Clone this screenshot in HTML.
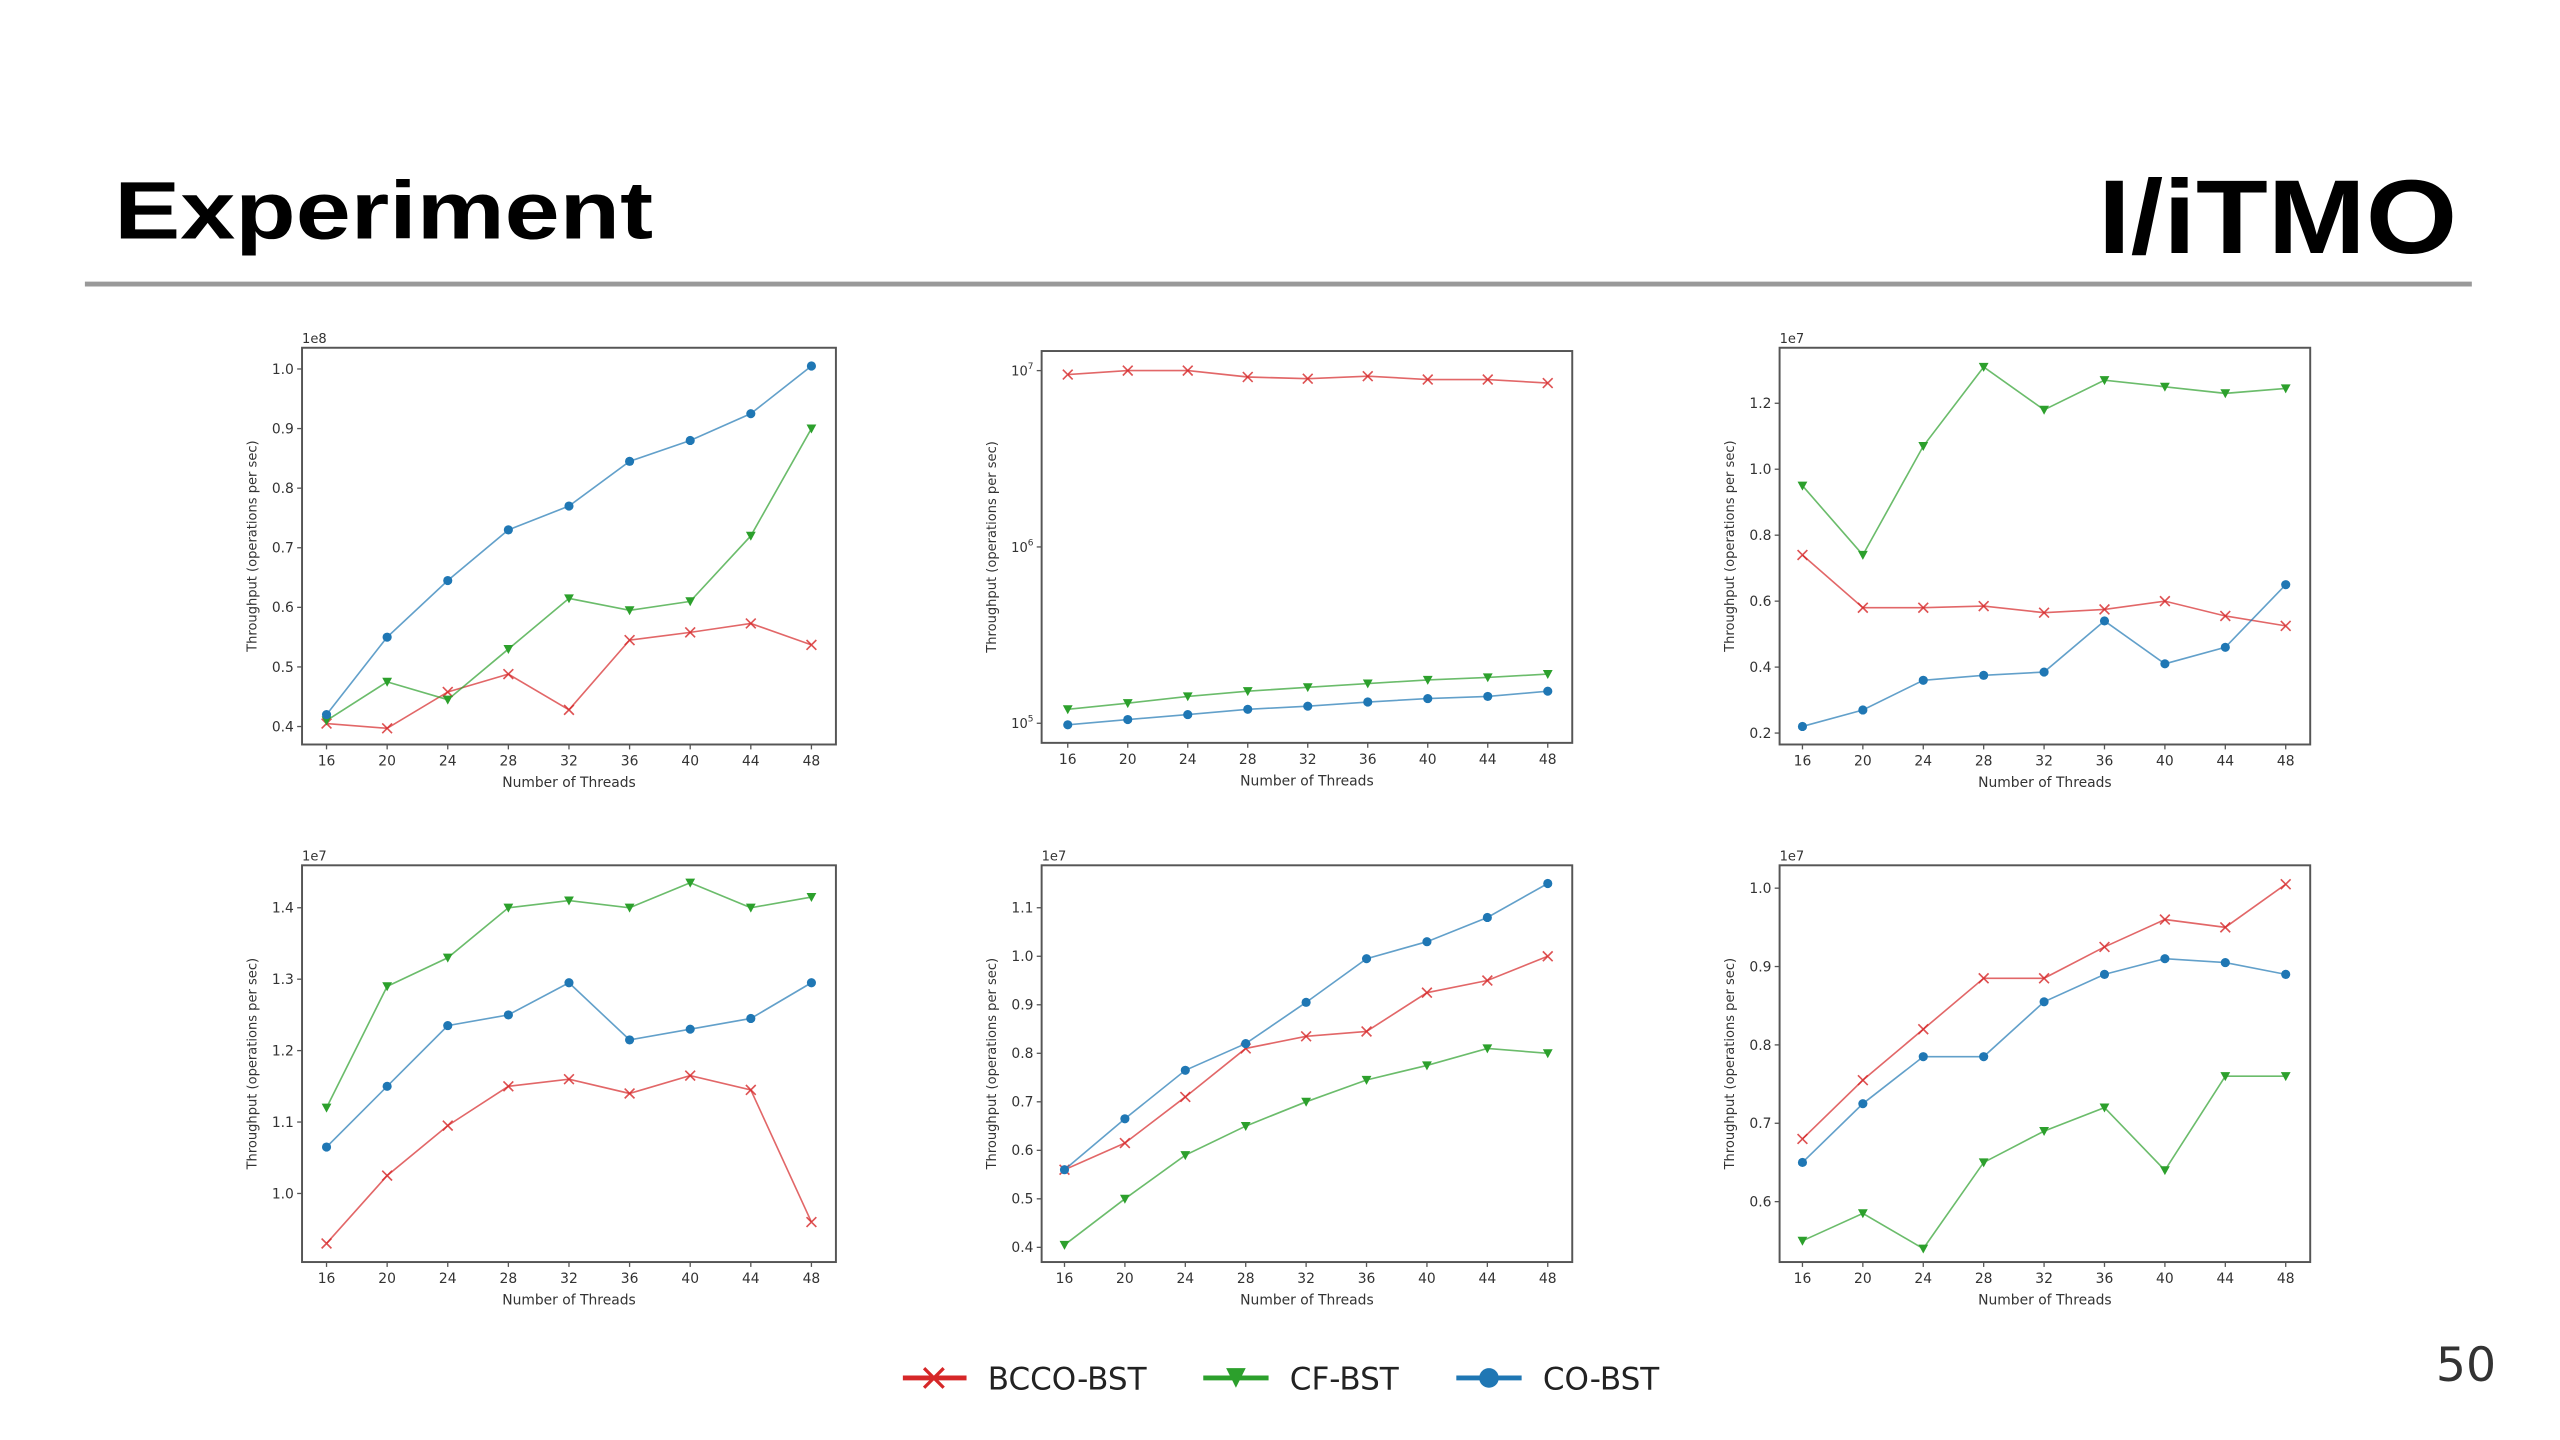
<!DOCTYPE html>
<html><head><meta charset="utf-8"><style>
html,body{margin:0;padding:0;background:#fff;width:2560px;height:1440px;overflow:hidden}
svg{display:block}
text{font-family:"DejaVu Sans","Liberation Sans",sans-serif}
</style></head><body>
<svg id="slide" width="2560" height="1440" viewBox="0 0 1568 882" preserveAspectRatio="none" xmlns="http://www.w3.org/2000/svg">
<text x="70" y="146" font-size="50" font-weight="bold" fill="#000" textLength="330" lengthAdjust="spacingAndGlyphs" style="font-family:'Liberation Sans',sans-serif">Experiment</text>
<g>
<text x="1285" y="155" font-size="64" font-weight="bold" fill="#000" textLength="220" lengthAdjust="spacingAndGlyphs" style="font-family:'Liberation Sans',sans-serif">I/iTMO</text>
</g>
<line x1="52" y1="174" x2="1514" y2="174" stroke="#999" stroke-width="3"/>
<g id="charts"></g>
<g>
<g>
<line x1="553" y1="844" x2="592" y2="844" stroke="#d62728" stroke-width="3"/>
<path d="M566,838 L578,850 M578,838 L566,850" stroke="#d62728" stroke-width="2"/>
<text x="605" y="851" font-size="19" fill="#222">BCCO-BST</text></g>
<g>
<line x1="737" y1="844" x2="777" y2="844" stroke="#2ca02c" stroke-width="3"/>
<path d="M751,838 L763,838 L757,850 Z" fill="#2ca02c"/>
<text x="790" y="851" font-size="19" fill="#222">CF-BST</text></g>
<g>
<line x1="892" y1="844" x2="932" y2="844" stroke="#1f77b4" stroke-width="3"/>
<circle cx="912" cy="844" r="6" fill="#1f77b4"/>
<text x="945" y="851" font-size="19" fill="#222">CO-BST</text></g>
</g>
<text x="1492" y="846" font-size="29" fill="#333">50</text>
</svg>
<script>
const threads = [16,20,24,28,32,36,40,44,48];
const p1_bcco = [0.405,0.397,0.458,0.488,0.428,0.545,0.558,0.573,0.537];
const p1_cf = [0.41,0.475,0.445,0.53,0.615,0.595,0.61,0.72,0.90];
const p1_co = [0.42,0.55,0.645,0.73,0.77,0.845,0.88,0.925,1.005];
const p2_bcco = [9.5e6,1.0e7,1.0e7,9.2e6,9.0e6,9.3e6,8.9e6,8.9e6,8.5e6];
const p2_cf = [1.2e5,1.3e5,1.42e5,1.52e5,1.6e5,1.68e5,1.76e5,1.82e5,1.9e5];
const p2_co = [0.98e5,1.05e5,1.12e5,1.2e5,1.25e5,1.32e5,1.38e5,1.42e5,1.52e5];
const p3_bcco = [0.74,0.58,0.58,0.585,0.565,0.575,0.6,0.555,0.525];
const p3_cf = [0.95,0.74,1.07,1.31,1.18,1.27,1.25,1.23,1.245];
const p3_co = [0.22,0.27,0.36,0.375,0.385,0.54,0.41,0.46,0.65];
const p4_bcco = [0.93,1.025,1.095,1.15,1.16,1.14,1.165,1.145,0.96];
const p4_cf = [1.12,1.29,1.33,1.40,1.41,1.40,1.435,1.40,1.415];
const p4_co = [1.065,1.15,1.235,1.25,1.295,1.215,1.23,1.245,1.295];
const p5_bcco = [0.56,0.615,0.71,0.81,0.835,0.845,0.925,0.95,1.0];
const p5_cf = [0.405,0.50,0.59,0.65,0.70,0.745,0.775,0.81,0.80];
const p5_co = [0.56,0.665,0.765,0.82,0.905,0.995,1.03,1.08,1.15];
const p6_bcco = [0.68,0.755,0.82,0.885,0.885,0.925,0.96,0.95,1.005];
const p6_cf = [0.55,0.585,0.54,0.65,0.69,0.72,0.64,0.76,0.76];
const p6_co = [0.65,0.725,0.785,0.785,0.855,0.89,0.91,0.905,0.89];
const ticks1 = ["0.4","0.5","0.6","0.7","0.8","0.9","1.0"];
const ticks3 = ["0.2","0.4","0.6","0.8","1.0","1.2"];
const ticks4 = ["1.0","1.1","1.2","1.3","1.4"];
const ticks5 = ["0.4","0.5","0.6","0.7","0.8","0.9","1.0","1.1"];
const ticks6 = ["0.6","0.7","0.8","0.9","1.0"];

const NS="http://www.w3.org/2000/svg";
const root=document.getElementById('charts');
function mk(tag,attrs,parent){const e=document.createElementNS(NS,tag);for(const k in attrs)e.setAttribute(k,attrs[k]);parent.appendChild(e);return e;}
const COL={bcco:'#d62728',cf:'#2ca02c',co:'#1f77b4'};

const panels=[
 {id:'1',box:[185,213,512,456],x0:200,x1:497,log:false,v0:0.4,y0:445,v1:1.0,y1:226,ticks:ticks1,exp:'1e8',s:[p1_bcco,p1_cf,p1_co]},
 {id:'2',box:[638,215,963,455],x0:654,x1:948,log:true,v0:5,y0:443,v1:7,y1:227,ticks:null,exp:'',s:[p2_bcco,p2_cf,p2_co]},
 {id:'3',box:[1090,213,1415,456],x0:1104,x1:1400,log:false,v0:0.2,y0:449,v1:1.2,y1:247,ticks:ticks3,exp:'1e7',s:[p3_bcco,p3_cf,p3_co]},
 {id:'4',box:[185,530,512,773],x0:200,x1:497,log:false,v0:1.0,y0:731,v1:1.4,y1:556,ticks:ticks4,exp:'1e7',s:[p4_bcco,p4_cf,p4_co]},
 {id:'5',box:[638,530,963,773],x0:652,x1:948,log:false,v0:0.4,y0:764,v1:1.1,y1:556,ticks:ticks5,exp:'1e7',s:[p5_bcco,p5_cf,p5_co]},
 {id:'6',box:[1090,530,1415,773],x0:1104,x1:1400,log:false,v0:0.6,y0:736,v1:1.0,y1:544,ticks:ticks6,exp:'1e7',s:[p6_bcco,p6_cf,p6_co]}
];
const keys=['bcco','cf','co'];
panels.forEach(p=>{
 const g=mk('g',{},root);
 
 
 const [L,T,R,B]=p.box;
 const xs=t=>p.x0+(t-16)/(48-16)*(p.x1-p.x0);
 const ys=v=>{const vv=p.log?Math.log10(v):v;return p.y0+(vv-p.v0)/(p.v1-p.v0)*(p.y1-p.y0);};
 const fr=mk('rect',{x:L,y:T,width:R-L,height:B-T,fill:'#fff',stroke:'#555','stroke-width':1.2},g);
 
 
 threads.forEach(t=>{
  const x=xs(t);
  mk('line',{x1:x,y1:B,x2:x,y2:B+3,stroke:'#555','stroke-width':0.8},g);
  const tx=mk('text',{x:x,y:B+13,'font-size':8.5,'text-anchor':'middle',fill:'#333'},g);
  tx.textContent=t;
  
  
 });
 const xl=mk('text',{x:(L+R)/2,y:B+26,'font-size':8.5,'text-anchor':'middle',fill:'#333'},g);
 xl.textContent='Number of Threads';
 
 
 const yl=mk('text',{x:0,y:0,'font-size':8,'text-anchor':'middle',fill:'#333',transform:`translate(${L-28},${(T+B)/2}) rotate(-90)`},g);
 yl.textContent='Throughput (operations per sec)';
 
 
 if(p.log){
  [5,6,7].forEach(e=>{
   const y=ys(Math.pow(10,e));
   mk('line',{x1:L-3,y1:y,x2:L,y2:y,stroke:'#555','stroke-width':0.8},g);
   const tx=mk('text',{x:L-5,y:y+3,'font-size':8,'text-anchor':'end',fill:'#333'},g);
   tx.textContent='10';
   const sp=mk('tspan',{dy:-4,'font-size':5.5},tx);sp.textContent=e;
   
   
  });
 } else {
  p.ticks.forEach(lbl=>{
   const y=ys(parseFloat(lbl));
   mk('line',{x1:L-3,y1:y,x2:L,y2:y,stroke:'#555','stroke-width':0.8},g);
   const tx=mk('text',{x:L-5,y:y+3,'font-size':8.5,'text-anchor':'end',fill:'#333'},g);
   tx.textContent=lbl;
   
   
  });
  const ex=mk('text',{x:L,y:T-3,'font-size':8,fill:'#333'},g);
  ex.textContent=p.exp;
  
  
 }
 p.s.forEach((vals,i)=>{
  const k=keys[i],c=COL[k];
  const sg=mk('g',{},g);
  
  
  const pts=vals.map((v,j)=>xs(threads[j])+','+ys(v)).join(' ');
  mk('polyline',{points:pts,fill:'none',stroke:c,'stroke-width':1,'stroke-opacity':0.7},sg);
  vals.forEach((v,j)=>{
   const x=xs(threads[j]),y=ys(v);let m;
   if(k==='bcco') m=mk('path',{d:`M${x-3},${y-3}L${x+3},${y+3}M${x+3},${y-3}L${x-3},${y+3}`,stroke:c,'stroke-width':1,'stroke-opacity':0.8},sg);
   else if(k==='cf') m=mk('path',{d:`M${x-3},${y-2.5}L${x+3},${y-2.5}L${x},${y+3}Z`,fill:c},sg);
   else m=mk('circle',{cx:x,cy:y,r:2.8,fill:c},sg);
   
   
  });
 });
});
</script>
</body></html>
